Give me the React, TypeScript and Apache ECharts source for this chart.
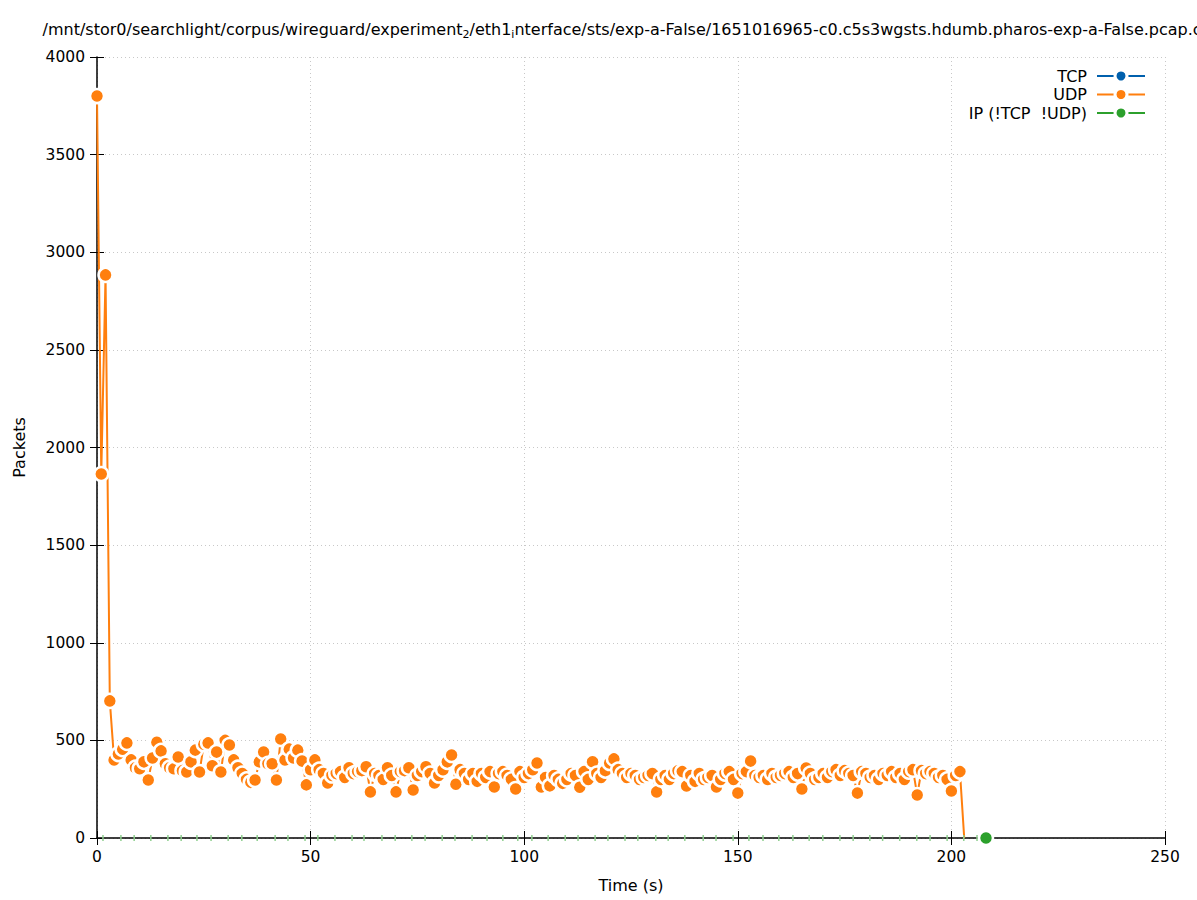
import React, { useEffect, useRef } from 'react';
import * as echarts from 'echarts';

const FONT = '"DejaVu Sans", sans-serif';

// UDP packets per second (t = 0 .. 203 s)
const udpValues = [
  3800, 1864, 2884, 702, 400, 430, 455, 487, 400, 360,
  355, 390, 297, 410, 490, 446, 380, 360, 355, 415,
  345, 338, 390, 450, 338, 480, 487, 370, 440, 338,
  500, 476, 400, 360, 330, 300, 285, 297, 390, 440,
  380, 380, 297, 507, 400, 455, 410, 450, 394, 272,
  350, 400, 350, 330, 282, 320, 330, 340, 310, 360,
  330, 340, 345, 365, 236, 330, 320, 300, 360, 320,
  236, 340, 345, 360, 246, 320, 340, 365, 330, 282,
  320, 350, 390, 425, 275, 350, 330, 300, 330, 290,
  330, 310, 340, 261, 330, 340, 320, 300, 251, 340,
  310, 330, 350, 384, 261, 310, 267, 320, 300, 280,
  300, 330, 320, 260, 340, 300, 390, 330, 310, 345,
  384, 405, 350, 330, 310, 330, 320, 300, 310, 320,
  330, 236, 300, 320, 300, 330, 344, 340, 266, 320,
  290, 330, 300, 310, 320, 261, 300, 330, 340, 300,
  230, 330, 340, 394, 320, 310, 320, 300, 330, 310,
  320, 330, 340, 310, 330, 251, 358, 330, 300, 310,
  330, 310, 340, 350, 320, 345, 330, 320, 230, 340,
  330, 310, 320, 300, 330, 320, 340, 310, 330, 300,
  340, 350, 220, 345, 330, 340, 330, 310, 320, 300,
  241, 320, 340, 0,
];

// IP (!TCP !UDP) samples, all zero packets
const ipTimes = [
  1.4, 5.6, 8.7, 12.6, 16.6, 19.7, 23.4, 26.7, 30.7, 33.9, 37.5, 41.7, 44.7,
  48.7, 51.7, 55.7, 59.7, 62.5, 66.7, 69.8, 73.7, 76.8, 80.8, 83.8, 87.8, 91.3,
  95.0, 98.5, 101.8, 105.6, 109.6, 112.6, 116.6, 119.6, 123.6, 126.6, 130.8,
  133.7, 137.6, 141.9, 144.9, 148.9, 152.6, 155.9, 159.6, 162.9, 166.7, 169.9,
  173.9, 177.0, 180.9, 183.9, 187.9, 191.9, 195.0, 199.0, 202.9, 206.0, 208.1,
];
const ipValues = ipTimes.map(() => 0);

const tcpValues: number[][] = [];

const seriesNames = ['TCP', 'UDP', 'IP (!TCP  !UDP)'];
const seriesColors = ['#0060ad', '#ff7f0e', '#2ca02c'];

const titleParts = [
  '/mnt/stor0/searchlight/corpus/wireguard/experiment',
  '2',
  '/eth1',
  'i',
  'nterface/sts/exp-a-False/1651016965-c0.c5s3wgsts.hdumb.pharos-exp-a-False.pcap.csv',
];

export default function App() {
  const ref = useRef<HTMLDivElement>(null);
  useEffect(() => {
    const chart = echarts.init(ref.current!, null, { renderer: 'svg' });

    const udpData = udpValues.map((v, i) =>
      i === udpValues.length - 1
        ? { value: [i, v], symbol: 'none' }
        : { value: [i, v] }
    );
    const ipData = ipTimes.map((t, i) =>
      i === ipTimes.length - 1
        ? { value: [t, ipValues[i]] }
        : {
            value: [t, ipValues[i]],
            symbol: 'rect',
            symbolSize: [1.5, 6],
            itemStyle: { color: '#8fcf8f', borderWidth: 0 },
          }
    );

    const gridLine = { show: true, lineStyle: { color: '#c8c8c8', type: [1, 3], width: 1 } };
    const tickStyle = { show: true, inside: true, length: 7, lineStyle: { color: '#000', width: 1 } };
    const plain = (v: number) => String(v);

    const richTitle = `{a|${titleParts[0]}}{s|${titleParts[1]}}{a|${titleParts[2]}}{s|${titleParts[3]}}{a|${titleParts[4]}}`;

    const legendItemStyle = (c: string) => ({ color: c, borderColor: '#fff', borderWidth: 3 });

    chart.setOption({
      animation: false,
      backgroundColor: '#fff',
      textStyle: { fontFamily: FONT },
      grid: { left: 97, right: 32, top: 57, bottom: 62, containLabel: false },
      graphic: [
        {
          type: 'text',
          x: 631,
          y: 21,
          style: {
            text: richTitle,
            align: 'center',
            verticalAlign: 'top',
            rich: {
              a: { fontFamily: FONT, fontSize: 16, color: '#000', lineHeight: 19, verticalAlign: 'top' },
              s: { fontFamily: FONT, fontSize: 11, color: '#000', lineHeight: 19, verticalAlign: 'bottom' },
            },
          },
        },
      ],
      legend: {
        orient: 'vertical',
        right: 46,
        top: 63,
        align: 'right',
        itemWidth: 48,
        itemHeight: 15,
        itemGap: 2.5,
        textStyle: { fontFamily: FONT, fontSize: 16, color: '#000', padding: [0, 5, 0, 0] },
        data: [
          { name: seriesNames[0], itemStyle: legendItemStyle(seriesColors[0]) },
          { name: seriesNames[1], itemStyle: legendItemStyle(seriesColors[1]) },
          {
            name: seriesNames[2],
            itemStyle: legendItemStyle(seriesColors[2]),
            lineStyle: { color: seriesColors[2], width: 2, opacity: 1 },
          },
        ],
      },
      xAxis: [
        {
          type: 'value',
          min: 0,
          max: 250,
          interval: 50,
          name: 'Time (s)',
          nameLocation: 'middle',
          nameGap: 39,
          nameTextStyle: { fontFamily: FONT, fontSize: 16, color: '#000' },
          axisLine: { show: true, onZero: false, lineStyle: { color: '#000', width: 1.5 } },
          axisTick: tickStyle,
          axisLabel: { fontFamily: FONT, fontSize: 15.5, color: '#000', margin: 11, formatter: plain },
          splitLine: gridLine,
        },
        {
          type: 'value',
          position: 'top',
          min: 0,
          max: 250,
          interval: 50,
          axisLine: { show: false },
          axisTick: tickStyle,
          axisLabel: { show: false },
          splitLine: { show: false },
        },
      ],
      yAxis: [
        {
          type: 'value',
          min: 0,
          max: 4000,
          interval: 500,
          name: 'Packets',
          nameLocation: 'middle',
          nameGap: 70,
          nameTextStyle: { fontFamily: FONT, fontSize: 16, color: '#000' },
          axisLine: { show: true, onZero: false, lineStyle: { color: '#000', width: 1.5 } },
          axisTick: tickStyle,
          axisLabel: { fontFamily: FONT, fontSize: 15.5, color: '#000', margin: 12, formatter: plain },
          splitLine: gridLine,
        },
        {
          type: 'value',
          position: 'right',
          min: 0,
          max: 4000,
          interval: 500,
          axisLine: { show: false },
          axisTick: tickStyle,
          axisLabel: { show: false },
          splitLine: { show: false },
        },
      ],
      series: [
        {
          name: seriesNames[0],
          type: 'line',
          data: tcpValues,
          color: seriesColors[0],
          symbol: 'circle',
          symbolSize: 13,
          lineStyle: { width: 2 },
          itemStyle: { color: seriesColors[0], borderColor: '#fff', borderWidth: 2.5 },
        },
        {
          name: seriesNames[1],
          type: 'line',
          data: udpData,
          color: seriesColors[1],
          symbol: 'circle',
          symbolSize: 14,
          showAllSymbol: true,
          lineStyle: { width: 2, color: seriesColors[1] },
          itemStyle: { color: seriesColors[1], borderColor: '#fff', borderWidth: 2.5 },
          emphasis: { disabled: true },
          clip: false,
        },
        {
          name: seriesNames[2],
          type: 'line',
          data: ipData,
          color: seriesColors[2],
          symbol: 'circle',
          symbolSize: 14,
          showAllSymbol: true,
          lineStyle: { width: 2, color: seriesColors[2], opacity: 0 },
          itemStyle: { color: seriesColors[2], borderColor: '#fff', borderWidth: 2.5 },
          emphasis: { disabled: true },
          clip: false,
        },
      ],
    });
    return () => chart.dispose();
  }, []);
  return (
    <div
      ref={ref}
      style={{ position: 'fixed', left: 0, top: 0, width: 1197, height: 900, background: '#fff' }}
    />
  );
}
